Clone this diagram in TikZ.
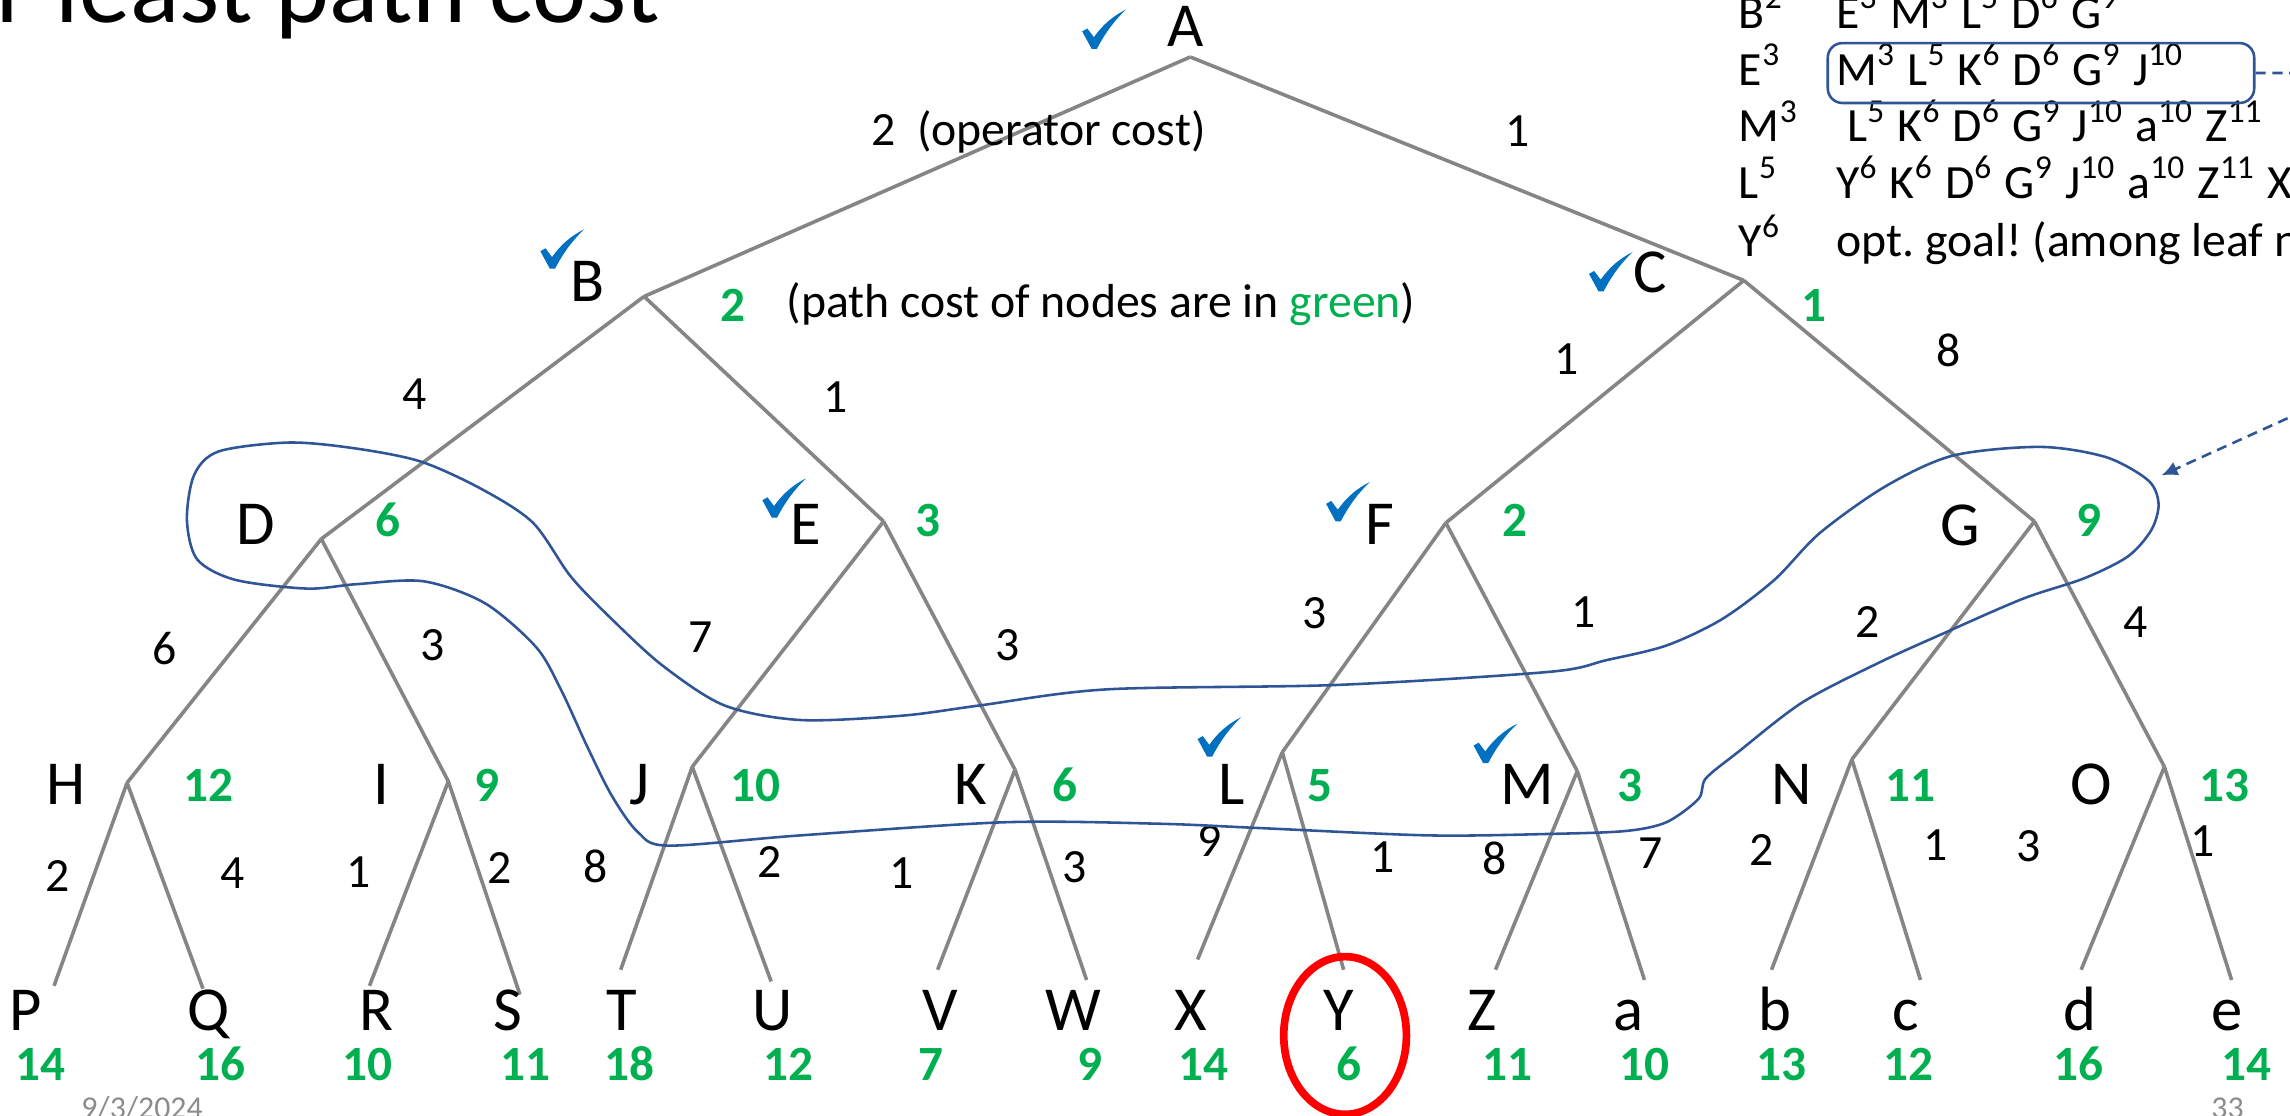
\documentclass[tikz,border=0pt]{standalone}
\usepackage{fontspec}
\setmainfont{Carlito}
\usepackage{xcolor}
\usetikzlibrary{arrows.meta}

\definecolor{costgreen}{HTML}{00B050}
\definecolor{tickblue}{HTML}{0070C0}
\definecolor{loopblue}{HTML}{2F5597}
\newcommand{\pc}[2]{#1\textsuperscript{#2}}
\frenchspacing

\tikzset{
  treeedge/.style={draw=black!48, line width=0.7pt},
  letter/.style={font=\fontsize{12.2}{14}\selectfont, anchor=base, inner sep=0pt},
  opcost/.style={font=\fontsize{9.3}{11}\selectfont, inner sep=0pt},
  pathcost/.style={font=\fontsize{9.6}{11}\selectfont\bfseries, text=costgreen, anchor=base, inner sep=0pt},
  listtext/.style={font=\fontsize{9.3}{11}\selectfont, anchor=base west, inner sep=0pt},
  frontier/.style={draw=loopblue, line width=0.5pt},
  pointer/.style={draw=loopblue, line width=0.5pt, dash pattern=on 0.7mm off 0.45mm,
                  -{Latex[length=1.1mm,width=1mm]}},
  goalring/.style={draw=red, line width=1.5pt},
  checkmark/.pic={
    \fill[tickblue] (-15,1.5) -- (-11.5,-0.5) -- (-7,5.5)
      .. controls (-1,-3) and (6,-9) .. (15,-13.5)
      .. controls (6,-5) and (0,4) .. (-5,13.5) -- (-8.5,13.5) -- cycle;
  }
}

\begin{document}
\begin{tikzpicture}[x=0.1mm,y=-0.1mm]
\useasboundingbox (0,0) rectangle (1568,764);
\clip (0,0) rectangle (1568,764);

% --- TITLE AND FOOTER ---
\node[anchor=base west, font=\fontsize{20}{24}\selectfont, inner sep=0pt] (title) at (-3,15.7) {r least path cost};
\node[anchor=base west, font=\fontsize{6.2}{7}\selectfont, text=black!45, inner sep=0pt] (date) at (55,766) {9/3/2024};
\node[anchor=base east, font=\fontsize{6.2}{7}\selectfont, text=black!45, inner sep=0pt] (pageno) at (1537,766) {33};

% --- TREE POINTS ---
\foreach \n/\x/\y in {A/815/39, B/441/203, C/1194/192, D/220/369, E/605/357, F/990/358, G/1393/357,
  H/87/536, I/307/535, J/474/525, K/695/527, L/878/515, M/1080/528, N/1268/520, O/1482/525,
  P/37/675, Q/139/677, R/253/675, S/356/681, T/425/664, U/528/672, V/642/664, W/744/671,
  X/820/657, Y/920/664, Z/1024/664, a/1126/671, b/1213/664, c/1315/671, d/1425/664, e/1528/671}
  \coordinate (v\n) at (\x,\y);

% --- EDGES ---
\foreach \p/\c in {A/B, A/C, B/D, B/E, C/F, C/G, D/H, D/I, E/J, E/K, F/L, F/M, G/N, G/O,
  H/P, H/Q, I/R, I/S, J/T, J/U, K/V, K/W, L/X, L/Y, M/Z, M/a, N/b, N/c, O/d, O/e}
  \draw[treeedge] (v\p) -- (v\c);

% --- NODE LETTERS ---
\foreach \n/\x/\y in {A/812/32, B/402/206.5, C/1130/200, D/175/373, E/552/373, F/945/373, G/1342/373.5,
  H/45/551, I/261/551, J/438/551, K/665/551, L/843/551, M/1046/551, N/1227/551, O/1432/551}
  \node[letter] (n\n) at (\x,\y) {\n};
\foreach \n/\x in {P/17.5, Q/142.5, R/257.6, S/347.6, T/426, U/529, V/644, W/735,
  X/815, Y/916.5, Z/1015, a/1115, b/1215, c/1305, d/1424, e/1525}
  \node[letter] (n\n) at (\x,705.7) {\n};

% --- PATH COSTS (GREEN) ---
\foreach \n/\x/\y/\g in {B/502/220/2, C/1242/220/1, D/266/367.5/6, E/635.6/367.5/3, F/1037/367.5/2,
  G/1430.6/367.5/9, H/143/549/12, I/333.6/549/9, J/517/549/10, K/729/549/6, L/904/549/5,
  M/1116/549/3, N/1308/549/11, O/1523/549/13}
  \node[pathcost] (g\n) at (\x,\y) {\g};
\foreach \n/\x/\g in {P/27.5/14, Q/151/16, R/251.5/10, S/360/11, T/431/18, U/540/12, V/637.7/7,
  W/746/9, X/823.8/14, Y/924/6, Z/1032.5/11, a/1126/10, b/1220/13, c/1306.6/12, d/1423/16, e/1538/14}
  \node[pathcost] (g\n) at (\x,739.5) {\g};

% --- OPERATOR COSTS ---
\node[opcost, anchor=base west] (oAB) at (596,99.3) {2~~(operator cost)};
\foreach \n/\x/\y/\w in {AC/1039/89.6/1, BD/284/270/4, BE/572/272/1, CF/1073/246/1, CG/1334/240/8,
  DH/112.5/444/6, DI/296/442/3, EJ/480/436/7, EK/690/442/3, FL/900/420/3, FM/1084/419/1,
  GN/1279/426/2, GO/1462/426/4, HP/39.5/600/2, HQ/159/598/4, IR/245.6/597.5/1, IS/342/594/2,
  JT/408/593/8, JU/527/590/2, KV/617.6/598/1, KW/736/594/3, LX/828/576/9, LY/946.7/586.6/1,
  MZ/1023.7/587.5/8, Ma/1130/584/7, Nb/1206.5/582/2, Nc/1325.5/578.6/1, Od/1389/579.7/3,
  Oe/1508/576/1}
  \node[opcost] (o\n) at (\x,\y) {\w};

\node[opcost, anchor=base west] (note) at (538,217.5) {(path cost of nodes are in \textcolor{costgreen}{green})};

% --- CHECKS ---
\foreach \x/\y in {756/20, 385/170.5, 1103/186, 537/341, 923/343.5, 835/504.5, 1024/509}
  \pic at (\x,\y) {checkmark};

% --- EXPANSION LIST ---
\foreach \r/\y/\head/\queue in {
  1/19.4/\pc{B}{2}/\pc{E}{3} \pc{M}{3} \pc{L}{5} \pc{D}{6} \pc{G}{9},
  2/58.2/\pc{E}{3}/\pc{M}{3} \pc{L}{5} \pc{K}{6} \pc{D}{6} \pc{G}{9} \pc{J}{10},
  3/97/\pc{M}{3}/\kern0.75mm\pc{L}{5} \pc{K}{6} \pc{D}{6} \pc{G}{9} \pc{J}{10} \pc{a}{10} \pc{Z}{11},
  4/135.8/\pc{L}{5}/\pc{Y}{6} \pc{K}{6} \pc{D}{6} \pc{G}{9} \pc{J}{10} \pc{a}{10} \pc{Z}{11} \pc{X}{14},
  5/175.8/\pc{Y}{6}/opt. goal! (among leaf n}
{
  \node[listtext] (head\r) at (1190,\y) {\head};
  \node[listtext] (queue\r) at (1256.7,\y) {\queue};
}
\node[frontier, rounded corners=1mm, minimum width=29.2mm, minimum height=4.1mm, inner sep=0pt]
  (openlist) at (1397.5,50) {};

% --- FRONTIER LOOP ---
\draw[frontier] plot[smooth cycle, tension=0.5] coordinates {
  (128,356) (133,325) (150,309) (198,303) (243,307) (288,316) (330,335) (365,358)
  (391,395) (420,425) (454,456) (496,483) (548,493) (618,490) (671,483) (758,472)
  (915,469) (1061,460) (1100,452) (1141,442) (1179,424) (1215,397) (1246,365)
  (1291,333) (1337,312) (1397,306) (1442,313) (1471,329) (1478,345) (1473,363)
  (1457,381) (1427,396) (1385,410) (1330,434) (1286,454) (1234,481) (1190,515)
  (1168,533) (1163,547) (1141,563) (1113,569) (1061,571) (978,572) (863,567)
  (793,564) (688,563) (548,572) (458,579) (437,570) (419,545) (402,511) (384,472)
  (367,443) (332,413) (290,398) (244,400) (210,403) (161,397) (135,383)};

% --- POINTER FROM LIST TO LOOP ---
\coordinate (turn) at (1640,253);
\coordinate (loopedge) at (1480,325.5);
\draw[pointer] (openlist.east) -- (openlist.east -| turn) -- (turn) -- (loopedge);

% --- GOAL ---
\draw[goalring] (921,709) ellipse [x radius=42, y radius=54];
\end{tikzpicture}
\end{document}
